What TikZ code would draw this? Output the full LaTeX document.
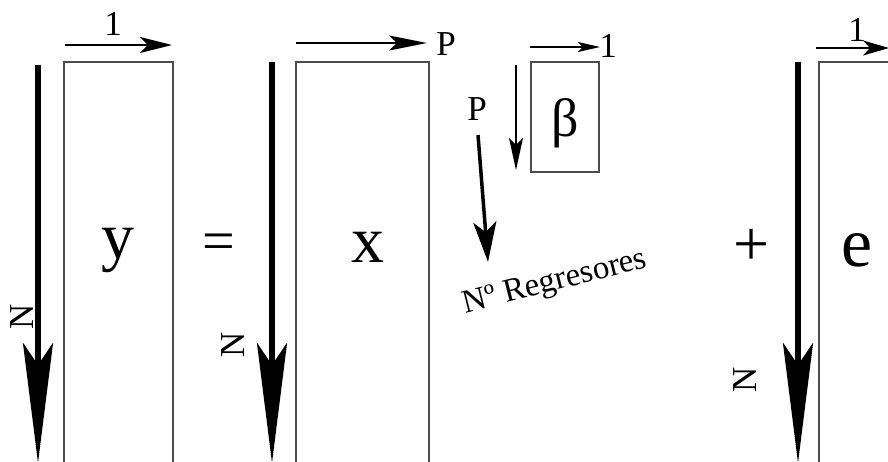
\documentclass[tikz,border=0pt]{standalone}
\usepackage{fontspec}
\setmainfont{Liberation Serif}
\usetikzlibrary{arrows.meta}
\definecolor{borde}{gray}{0.3}

\begin{document}
\begin{tikzpicture}[x=1pt, y=-1pt, >=Stealth,
    matriz/.style={draw=borde, line width=1.4pt},
    flechaN/.style={line width=6pt, -{Stealth[length=120pt, width=30pt, inset=22pt]}},
    dimen/.style={line width=2pt, -{Stealth[length=32pt, width=16pt, inset=8pt]}},
    etiq/.style={font=\fontsize{35}{35}\selectfont, inner sep=0pt},
    letra/.style={font=\fontsize{66}{66}\selectfont, inner sep=0pt, anchor=base}]

    % 1. Marco de la figura
    \clip (0,0) rectangle (888,461);
    \fill[white] (0,0) rectangle (888,461);

    % 2. Matrices (rectangulos)
    \draw[matriz] (64,62) rectangle (173,475);
    \draw[matriz] (296,62) rectangle (429,475);
    \draw[matriz] (531,62) rectangle (599,172);
    \draw[matriz] (819,62) rectangle (900,475);

    % 3. Letras dentro de las matrices
    \node[letra] (y) at (118,258) {y};
    \node[letra] (x) at (368,262) {x};
    \node[letra, font=\fontsize{54}{54}\selectfont] (beta) at (565,136) {β};
    \node[letra, font=\fontsize{70}{70}\selectfont] (e) at (857,266) {e};
    \node[font=\fontsize{58}{58}\selectfont, inner sep=0pt] (igual) at (219,247) {=};
    \node[font=\fontsize{64}{64}\selectfont, inner sep=0pt] (mas) at (752,247) {+};

    % 4. Flechas gruesas de las filas (N)
    \coordinate (n1a) at (38,65);  \coordinate (n1b) at (38,463);
    \coordinate (n2a) at (272,62); \coordinate (n2b) at (272,463);
    \coordinate (n3a) at (798,62); \coordinate (n3b) at (798,463);
    \draw[flechaN] (n1a) -- (n1b);
    \draw[flechaN] (n2a) -- (n2b);
    \draw[flechaN] (n3a) -- (n3b);
    \node[etiq, rotate=90] (N1) at (22,317) {N};
    \node[etiq, rotate=90] (N2) at (233,345) {N};
    \node[etiq, rotate=90] (N3) at (745,380) {N};

    % 5. Flechas de las columnas
    \coordinate (c1a) at (65,45);  \coordinate (c1b) at (172,45);
    \coordinate (c2a) at (296,43); \coordinate (c2b) at (427,43);
    \coordinate (c3a) at (530,47); \coordinate (c3b) at (600,47);
    \coordinate (c4a) at (816,48); \coordinate (c4b) at (889,48);
    \draw[dimen] (c1a) -- (c1b);
    \draw[dimen, -{Stealth[length=38pt, width=15pt, inset=8pt]}] (c2a) -- (c2b);
    \draw[dimen, line width=1.5pt, -{Stealth[length=22pt, width=10pt, inset=5pt]}] (c3a) -- (c3b);
    \draw[dimen, -{Stealth[length=26pt, width=15pt, inset=7pt]}] (c4a) -- (c4b);
    \node[etiq, anchor=base] (uno1) at (113,35) {1};
    \node[etiq, anchor=base] (P1) at (446,55) {P};
    \node[etiq, anchor=base] (uno2) at (608,57) {1};
    \node[etiq, anchor=base] (uno3) at (857,41) {1};

    % 6. Filas de beta y numero de regresores
    \coordinate (b1a) at (516,65);  \coordinate (b1b) at (516,170);
    \draw[line width=1.6pt, -{Stealth[length=32pt, width=14pt, inset=7pt]}] (b1a) -- (b1b);
    \node[etiq, anchor=base] (P2) at (477,120) {P};
    \coordinate (r1a) at (478,135); \coordinate (r1b) at (488,262);
    \draw[line width=3.5pt, -{Stealth[length=40pt, width=23pt, inset=10pt]}] (r1a) -- (r1b);
    \node[etiq, font=\fontsize{33}{33}\selectfont, rotate=14] (regres) at (555,283) {Nº Regresores};
\end{tikzpicture}
\end{document}
